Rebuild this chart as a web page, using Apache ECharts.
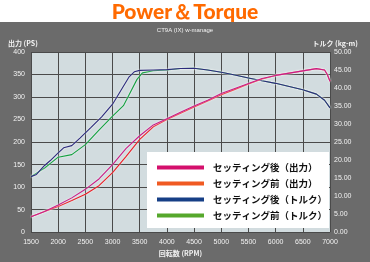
<!DOCTYPE html>
<html><head><meta charset="utf-8">
<script src="https://cdn.jsdelivr.net/npm/echarts@6/dist/echarts.min.js"></script>
<style>html,body{margin:0;padding:0;background:#6b6b6b}#c{width:370px;height:262px}</style>
</head><body><div id="c"></div>
<script>
// Power (PS) vs RPM
const powerAfterRpm = [1500,1750,2000,2250,2500,2750,3000,3250,3500,3750,4000,4250,4500,4750,5000,5250,5500,5750,6000,6250,6500,6750,6900,6950,7000];
const powerAfter    = [34,46,60,76,95,118,150,186,214,238,252,266,280,293,308,319,330,341,348,353,358,363,360,350,335];
const powerBeforeRpm = [1500,1750,2000,2250,2500,2750,3000,3250,3500,3750,4000,4250,4500,4750,5000,5250,5500,5750,6000,6250,6500,6750,6900,6950,7000];
const powerBefore    = [34,46,57,70,84,103,132,168,206,234,250,264,278,291,305,317,329,340,348,353,358,363,360,350,335];
// Torque (kg-m) vs RPM
const torqueAfterRpm = [1500,1600,1750,1850,2000,2100,2250,2400,2600,2800,3000,3200,3300,3400,3500,3750,4000,4250,4500,4750,5000,5250,5500,5750,6000,6250,6500,6750,6900,7000];
const torqueAfter    = [15.4,16.0,18.5,19.8,22.0,23.4,24.0,26.1,29.0,32.0,35.5,40.5,43.0,44.5,44.9,45.0,45.1,45.4,45.5,45.0,44.4,43.6,42.8,42.0,41.3,40.4,39.5,38.3,36.6,34.5];
const torqueBeforeRpm = [1500,1750,2000,2250,2500,2750,3000,3200,3300,3450,3550,3750,4000,4250,4500,4750,5000,5250,5500,5750,6000,6250,6500,6750,6900,7000];
const torqueBefore    = [15.4,17.8,20.8,21.5,24.3,28.3,32.2,35.1,38.0,42.4,44.2,44.8,45.0,45.4,45.5,45.0,44.4,43.6,42.8,42.0,41.3,40.4,39.5,38.3,36.6,34.5];
const seriesNames = ['セッティング後（出力）','セッティング前（出力）','セッティング後（トルク）','セッティング前（トルク）'];
const legendColors = ['#d4106c','#f05a22','#163f86','#56a82c'];
const lineColors = ['#c81c86','#ec1c24','#2c2a7c','#14a040'];

const zip = (xs, ys) => xs.map((x, i) => [x, ys[i]]);
const chart = echarts.init(document.getElementById('c'), null, {renderer:'canvas'});
const lbl = {color:'#f2f2f2', fontSize:7, fontFamily:'Liberation Sans, Arial, sans-serif'};
const mkLine = (i, data, yIdx) => ({
  name: seriesNames[i], type:'line', yAxisIndex:yIdx, data, symbol:'none',
  lineStyle:{color:lineColors[i], width:1.1, shadowColor:'rgba(255,255,255,0.9)', shadowBlur:2},
  itemStyle:{color:lineColors[i]}, z: 3 + (3 - i), animation:false
});
chart.setOption({
  backgroundColor:'#6b6b6b',
  animation:false,
  graphic:[
    {type:'rect', left:0, top:0, shape:{width:370, height:22}, style:{fill:'#ffffff'}, z:-1},
    {type:'rect', left:147, top:152, shape:{width:182, height:76}, style:{fill:'#ffffff'}, z:50}
  ],
  title:[
    {text:'Power＆Torque', left:'center', top:-3, textStyle:{color:'#ff6a00', fontSize:21, fontWeight:900, fontFamily:'Lato, Open Sans, sans-serif'}},
    {text:'CT9A (IX) w-manage', left:'center', top:27, padding:0, textStyle:{color:'#f2f2f2', fontSize:6, fontWeight:'normal', fontFamily:'Liberation Sans, sans-serif'}},
    {text:'出力 (PS)', left:8, top:40, padding:0, textStyle:{color:'#f2f2f2', fontSize:7, fontWeight:'bold', fontFamily:'Noto Sans CJK JP, sans-serif'}},
    {text:'トルク (kg-m)', right:12, top:40, padding:0, textStyle:{color:'#f2f2f2', fontSize:7, fontWeight:'bold', fontFamily:'Noto Sans CJK JP, sans-serif'}}
  ],
  grid:{left:31, top:52, width:299, height:184, show:true, backgroundColor:'#d2dcdf', borderWidth:0},
  legend:{
    orient:'vertical', left:157, top:161, z:60, padding:0, itemGap:3,
    itemWidth:47, itemHeight:4, icon:'rect',
    textStyle:{color:'#111', fontSize:9.5, fontWeight:'bold', fontFamily:'Noto Sans CJK JP, sans-serif', padding:[0,0,0,4], lineHeight:13},
    data: seriesNames.map((n, i) => ({name:n, itemStyle:{color:legendColors[i]}}))
  },
  xAxis:{type:'value', min:1500, max:7000, interval:500,
    name:'回転数 (RPM)', nameLocation:'middle', nameGap:16,
    nameTextStyle:{color:'#f2f2f2', fontSize:7, fontWeight:'bold', fontFamily:'Noto Sans CJK JP, sans-serif'},
    axisLine:{show:false}, axisTick:{show:false},
    axisLabel:{...lbl, margin:6, formatter:v => String(v)},
    splitLine:{show:true, lineStyle:{color:'#4a4a4a', width:1}}},
  yAxis:[
    {type:'value', min:0, max:400, interval:50, position:'left',
     axisLine:{show:false}, axisTick:{show:false},
     axisLabel:{...lbl, margin:6},
     splitLine:{show:true, lineStyle:{color:'#4a4a4a', width:1}}},
    {type:'value', min:0, max:50, interval:5, position:'right',
     axisLine:{show:false}, axisTick:{show:false},
     axisLabel:{...lbl, margin:4, formatter:v => v.toFixed(2)},
     splitLine:{show:false}}
  ],
  series:[
    mkLine(0, zip(powerAfterRpm, powerAfter), 0),
    mkLine(1, zip(powerBeforeRpm, powerBefore), 0),
    mkLine(2, zip(torqueAfterRpm, torqueAfter), 1),
    mkLine(3, zip(torqueBeforeRpm, torqueBefore), 1)
  ]
});
</script></body></html>
